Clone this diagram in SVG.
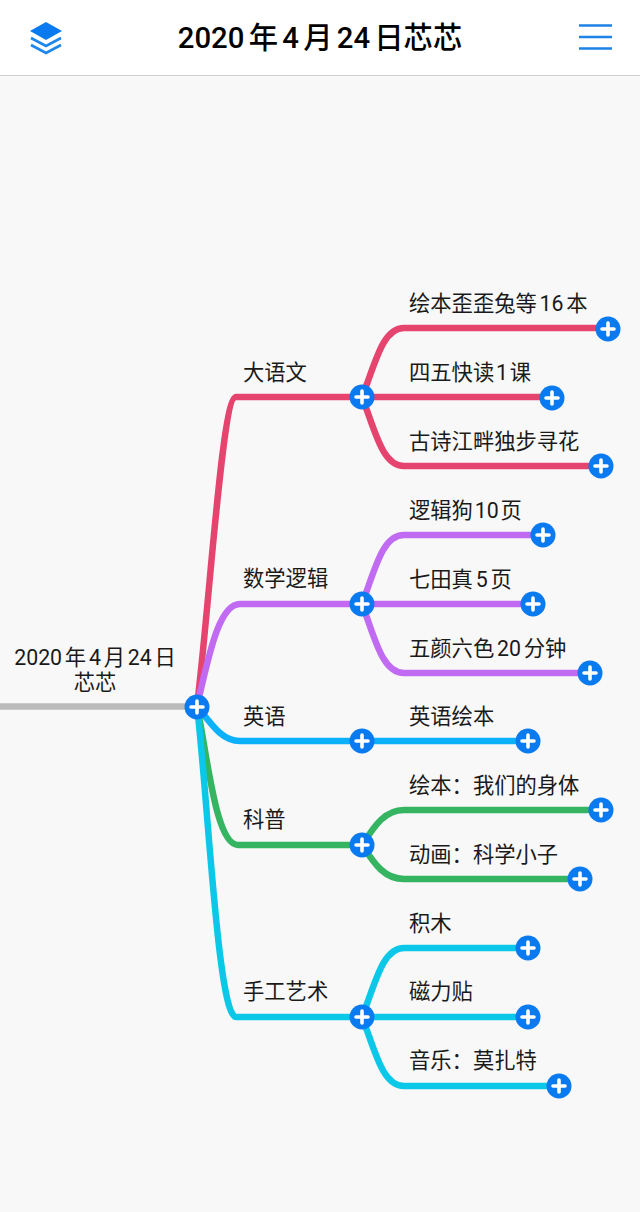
<svg xmlns="http://www.w3.org/2000/svg" width="640" height="1212" viewBox="0 0 640 1212">
<style>
text{font-family:Roboto,"Noto Sans CJK SC",sans-serif;font-size:21.300px;fill:#1a1a1a;word-spacing:-2.500px}
.c{fill:none;stroke-width:6.500;stroke-linecap:round}
.b{fill:#0a7af0}.p{fill:none;stroke:#fff;stroke-width:3.600;stroke-linecap:round}
</style>
<defs><g id="plus"><circle r="12.5" class="b"/><path class="p" d="M-6 0H6M0-6V6"/></g></defs>
<rect width="640" height="1212" fill="#f8f8f8"/>
<g id="header"><rect width="640" height="75" fill="#fff"/><rect y="75" width="640" height="1" fill="#cfcfcf"/>
<path d="M46 22L62 31L46 40L30 31Z" fill="#0a7af0"/>
<path d="M31 38L46 46L61 38M31 45L46 53L61 45" fill="none" stroke="#1f86ee" stroke-width="2.600"/>
<path d="M579 25.500H612M579 37H612M579 48.500H612" stroke="#1f82e6" stroke-width="2.500"/>
<text x="320" y="48" text-anchor="middle" style="font-size:29.300px;font-weight:500;fill:#000;word-spacing:-3px">2020 年 4 月 24 日芯芯</text></g>
<g id="connectors">
<path d="M0 706.500H197" fill="none" stroke="#bbb" stroke-width="6.500"/>
<g stroke="#e5446f"><path class="c" d="M197 706C210 600 222 397 236 397H362"/><path class="c" d="M362 397C375 365 382 328 404 328H608"/><path class="c" d="M362 397H552"/><path class="c" d="M362 397C375 430 382 466 404 466H601"/></g>
<g stroke="#c06bf2"><path class="c" d="M197 706C208 660 218 604 240 604H362"/><path class="c" d="M362 604C375 570 382 535 404 535H543"/><path class="c" d="M362 604H533"/><path class="c" d="M362 604C375 638 382 673 404 673H590"/></g>
<path class="c" stroke="#0db0fb" d="M197 706C212 725 222 741 240 741H528"/>
<g stroke="#35b561"><path class="c" d="M197 706C208 760 216 845 238 845H362"/><path class="c" d="M362 845C375 825 385 810 404 810H601"/><path class="c" d="M362 845C375 865 385 879 404 879H580"/></g>
<g stroke="#0cc8e8"><path class="c" d="M197 706C208 800 218 1017 236 1017H362"/><path class="c" d="M362 1017C375 985 382 948 404 948H528"/><path class="c" d="M362 1017H528"/><path class="c" d="M362 1017C375 1050 382 1086 404 1086H559"/></g>
</g>
<g id="root"><text x="95" y="665" text-anchor="middle">2020 年 4 月 24 日</text><text x="95" y="690" text-anchor="middle">芯芯</text><use href="#plus" x="197" y="707"/></g>
<g id="n-yuwen"><text x="243" y="380">大语文</text><use href="#plus" x="362" y="397"/></g>
<g id="n-yw1"><text x="409" y="311">绘本歪歪兔等 16 本</text><use href="#plus" x="608" y="329"/></g>
<g id="n-yw2"><text x="409" y="380" style="word-spacing:-3.500px">四五快读 1 课</text><use href="#plus" x="552" y="398"/></g>
<g id="n-yw3"><text x="409" y="449">古诗江畔独步寻花</text><use href="#plus" x="601" y="466"/></g>
<g id="n-math"><text x="243" y="586">数学逻辑</text><use href="#plus" x="362" y="604"/></g>
<g id="n-m1"><text x="409" y="518" style="word-spacing:-3.500px">逻辑狗 10 页</text><use href="#plus" x="543" y="535"/></g>
<g id="n-m2"><text x="409" y="587">七田真 5 页</text><use href="#plus" x="533" y="604"/></g>
<g id="n-m3"><text x="409" y="656">五颜六色 20 分钟</text><use href="#plus" x="590" y="673"/></g>
<g id="n-en"><text x="243" y="724">英语</text><use href="#plus" x="362" y="741"/></g>
<g id="n-en1"><text x="409" y="724">英语绘本</text><use href="#plus" x="528" y="741"/></g>
<g id="n-sci"><text x="243" y="827">科普</text><use href="#plus" x="362" y="845"/></g>
<g id="n-s1"><text x="409" y="793">绘本：我们的身体</text><use href="#plus" x="601" y="810"/></g>
<g id="n-s2"><text x="409" y="862">动画：科学小子</text><use href="#plus" x="580" y="879"/></g>
<g id="n-art"><text x="243" y="999">手工艺术</text><use href="#plus" x="362" y="1017"/></g>
<g id="n-a1"><text x="409" y="931">积木</text><use href="#plus" x="528" y="948"/></g>
<g id="n-a2"><text x="409" y="999">磁力贴</text><use href="#plus" x="528" y="1017"/></g>
<g id="n-a3"><text x="409" y="1068">音乐：莫扎特</text><use href="#plus" x="559" y="1086"/></g>
</svg>
